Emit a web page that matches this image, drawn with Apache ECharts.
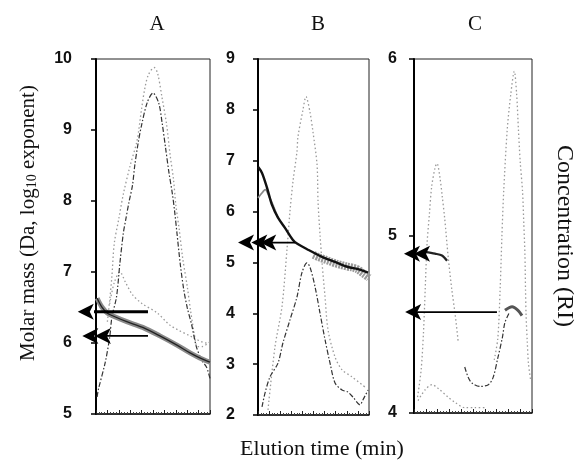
<!DOCTYPE html>
<html>
<head>
<meta charset="utf-8">
<script src="https://cdn.jsdelivr.net/npm/echarts@6/dist/echarts.min.js"></script>
<style>html,body{margin:0;padding:0;background:#fff}#c{width:575px;height:471px}</style>
</head>
<body>
<div id="c"></div>
<script>
// ---------- Panel titles & axis names ----------
const panelTitles = ['A', 'B', 'C'];
const yAxisName = 'Molar mass (Da, log';
const rightAxisName = 'Concentration (RI)';
const xAxisName = 'Elution time (min)';

// ---------- Y ranges (log10 exponent) ----------
const yRangeA = [5, 10];
const yRangeB = [2, 9];
const yRangeC = [4, 6];
const xRange = [0, 10];

// ---------- Panel A ----------
const aConcDark = [[0.1,5.24],[0.2,5.34],[0.8,5.72],[1.2,6.08],[1.4,6.37],[1.8,6.65],[2.1,7.13],[2.4,7.55],[2.6,7.73],[2.9,7.99],[3.2,8.22],[3.4,8.5],[3.7,8.82],[4.0,9.07],[4.5,9.39],[5.0,9.52],[5.5,9.38],[5.8,9.1],[6.1,8.75],[6.4,8.4],[6.7,8.1],[6.9,7.85],[7.1,7.55],[7.4,7.1],[7.7,6.75],[8.0,6.5],[8.4,6.25],[8.8,5.95],[9.3,5.75],[9.7,5.66],[10,5.5]];
const aConcLight = [[1.0,6.3],[1.2,6.6],[1.4,6.95],[1.6,7.4],[2.0,7.75],[2.4,8.1],[3.0,8.5],[3.6,8.85],[4.0,9.3],[4.3,9.6],[4.6,9.78],[5.1,9.88],[5.4,9.8],[5.8,9.45],[6.2,9.07],[6.5,8.65],[6.8,8.3],[7.0,7.95],[7.3,7.6],[7.6,7.2],[8.0,6.8],[8.3,6.45],[8.6,6.15],[8.9,5.95],[9.3,5.95],[10,6.02]];
const aConcBump = [[1.2,6.55],[1.6,6.85],[2.1,7.0],[2.6,6.85],[3.2,6.68],[4.0,6.56],[5.4,6.42],[6.5,6.25],[8.5,6.08],[9.7,6.0],[10,6.0]];
const aMolar = [[0.1,6.63],[0.5,6.51],[1.0,6.42],[1.5,6.38],[2.7,6.3],[4.1,6.22],[5.6,6.1],[7.1,5.97],[8.25,5.86],[9.1,5.79],[10,5.73]];
const aArrowUpper = {y: 6.44, from: 4.56, heads: [-1.6]};
const aArrowLower = {y: 6.1, from: 4.56, heads: [-0.1, -1.2]};

// ---------- Panel B ----------
const bMolar = [[0,6.88],[0.36,6.76],[0.81,6.47],[1.26,6.13],[1.8,5.88],[2.43,5.68],[3.15,5.44],[3.51,5.37],[4.5,5.25],[5.77,5.11],[6.94,5.01],[8.11,4.91],[9.0,4.87],[9.91,4.8]];
const bMolarGray = [[0,6.27],[0.45,6.39],[0.65,6.43],[1.0,6.3],[1.4,6.1],[1.8,5.88]];
const bMolarNoise = [[5.0,5.15],[5.5,5.1],[6.0,5.06],[6.5,5.02],[7.0,4.98],[7.5,4.95],[8.0,4.92],[8.5,4.9],[9.0,4.86],[9.5,4.78],[10,4.7]];
const bConcDark = [[0.36,2.16],[0.63,2.43],[1.08,2.75],[1.8,3.02],[2.25,3.42],[2.88,3.87],[3.51,4.32],[3.96,4.8],[4.41,4.99],[4.68,4.91],[5.14,4.52],[5.59,4.0],[6.04,3.48],[6.49,3.02],[6.94,2.63],[7.57,2.49],[8.11,2.45],[8.56,2.35],[9.19,2.2],[9.46,2.3],[9.91,2.49]];
const bConcLight = [[0.9,2.1],[1.53,3.34],[2.16,4.13],[2.61,5.25],[2.88,6.0],[3.15,6.59],[3.51,7.18],[3.6,7.47],[4.05,8.0],[4.32,8.26],[4.68,7.96],[4.95,7.57],[5.32,6.92],[5.41,6.19],[5.59,5.54],[5.77,4.99],[6.04,4.32],[6.31,3.67],[6.94,3.14],[7.57,2.89],[8.47,2.75],[9.64,2.55]];
const bArrow = {y: 5.39, from: 3.33, heads: [0.2, -0.6, -1.8]};

// ---------- Panel C ----------
const cConcLeft = [[0.3,4.09],[0.6,4.24],[0.8,4.45],[0.95,4.7],[1.1,4.95],[1.3,5.12],[1.5,5.28],[1.8,5.39],[1.95,5.41],[2.2,5.33],[2.4,5.22],[2.6,5.1],[2.9,4.88],[3.2,4.7],[3.5,4.55],[3.75,4.4]];
const cConcRight = [[6.8,4.3],[7.1,4.42],[7.3,4.7],[7.45,5.0],[7.6,5.25],[7.9,5.6],[8.2,5.8],[8.5,5.93],[8.7,5.8],[8.85,5.6],[9.0,5.42],[9.2,5.25],[9.3,5.08],[9.4,4.9],[9.45,4.7],[9.5,4.55],[9.6,4.4],[9.7,4.28],[9.9,4.18]];
const cConcU = [[4.3,4.26],[4.6,4.2],[4.9,4.17],[5.6,4.15],[6.3,4.16],[6.7,4.2],[7.1,4.31],[7.5,4.43],[7.7,4.51],[8.1,4.57]];
const cConcBump = [[0.34,4.07],[0.93,4.13],[1.53,4.16],[2.03,4.14],[2.88,4.09],[3.47,4.06],[4.32,4.03],[5.17,4.03],[6.02,4.03]];
const cMolar1 = [[0.93,4.91],[1.78,4.9],[2.37,4.89],[2.8,4.86]];
const cMolar2 = [[7.71,4.58],[8.31,4.6],[8.81,4.58],[9.15,4.55]];
const cArrowUpper = {y: 4.9, from: 0.93, heads: [0.0, -0.85]};
const cArrowLower = {y: 4.57, from: 7.03, heads: [-0.75]};

// ---------- styles ----------
const DARK_DASH = {color: '#333', width: 1.2, type: [5, 2, 1.5, 2]};
const LIGHT_DOT = {color: '#9a9a9a', width: 1.3, type: [1.5, 2.5]};
const SERIF = '"Liberation Serif","Times New Roman",serif';
const SANS = '"Liberation Sans",Arial,sans-serif';

function line(idx, data, lineStyle, z) {
  return {type: 'line', xAxisIndex: idx, yAxisIndex: idx, data: data, showSymbol: false,
    symbol: 'none', lineStyle: lineStyle, z: z || 2, silent: true, smooth: 0.3, clip: true};
}
function arrow(idx, a, width) {
  const d = [{value: [a.from, a.y], symbol: 'none'}];
  a.heads.forEach(h => d.push({value: [h, a.y], symbol: 'arrow', symbolRotate: 90, symbolSize: [12, 16]}));
  return {type: 'line', xAxisIndex: idx, yAxisIndex: idx, data: d, showSymbol: true, showAllSymbol: true,
    symbol: 'none', itemStyle: {color: '#000'}, lineStyle: {color: '#000', width: width}, clip: false, z: 10, silent: true};
}

const grids = [
  {left: 96, top: 59, width: 114, height: 355},
  {left: 258, top: 59, width: 111, height: 356},
  {left: 414, top: 59, width: 118, height: 354}
].map(g => Object.assign(g, {show: true, borderColor: '#222', borderWidth: 1, backgroundColor: 'transparent', outerBoundsMode: 'none'}));

const yRanges = [yRangeA, yRangeB, yRangeC];
const labelMargins = [24, 23, 17];

const xAxes = [0, 1, 2].map(i => ({
  type: 'value', gridIndex: i, min: xRange[0], max: xRange[1], interval: 1,
  axisLine: {show: true, lineStyle: {color: '#111', width: 1.5}},
  axisTick: {show: true, inside: true, length: 4, lineStyle: {color: '#222'}},
  minorTick: {show: true, splitNumber: 4, length: 2, lineStyle: {color: '#444'}},
  axisLabel: {show: false}, splitLine: {show: false}
}));
const yAxes = [0, 1, 2].map(i => ({
  type: 'value', gridIndex: i, min: yRanges[i][0], max: yRanges[i][1], interval: 1,
  axisLine: {show: true, lineStyle: {color: '#000', width: 2}},
  axisTick: {show: true, inside: false, length: 5, lineStyle: {color: '#000', width: 1.5}},
  axisLabel: {show: true, margin: labelMargins[i], fontFamily: SANS, fontSize: 16, fontWeight: 'bold', color: '#111'},
  splitLine: {show: false}
}));

const series = [
  // A
  line(0, aConcBump, LIGHT_DOT),
  line(0, aConcLight, LIGHT_DOT),
  line(0, aConcDark, DARK_DASH),
  line(0, aMolar, {color: '#8a8a8a', width: 5}, 3),
  line(0, aMolar, {color: '#222', width: 1.3}, 4),
  arrow(0, aArrowUpper, 2.8),
  arrow(0, aArrowLower, 1.8),
  // B
  line(1, bConcLight, LIGHT_DOT),
  line(1, bConcDark, DARK_DASH),
  line(1, bMolarGray, {color: '#888', width: 1.8}, 3),
  line(1, bMolarNoise, {color: '#9a9a9a', width: 8, type: [2, 1]}, 3),
  line(1, bMolar, {color: '#111', width: 2.4}, 4),
  arrow(1, bArrow, 1.8),
  // C
  line(2, cConcLeft, LIGHT_DOT),
  line(2, cConcRight, LIGHT_DOT),
  line(2, cConcBump, LIGHT_DOT),
  line(2, cConcU, DARK_DASH),
  line(2, cMolar1, {color: '#222', width: 2.2}, 4),
  line(2, cMolar2, {color: '#555', width: 3}, 4),
  arrow(2, cArrowUpper, 1.8),
  arrow(2, cArrowLower, 1.8)
];

const titleX = [157, 318, 475];
const graphic = panelTitles.map((t, i) => ({
  type: 'text', x: titleX[i], y: 24,
  style: {text: t, font: '21px ' + SERIF, fill: '#111', align: 'center', verticalAlign: 'middle'}
})).concat([
  {type: 'text', x: 28, y: 223, rotation: Math.PI / 2,
   style: {text: '{a|' + yAxisName + '}{s|10}{a| exponent)}', align: 'center', verticalAlign: 'middle', fill: '#111',
     rich: {a: {font: '21px ' + SERIF, fill: '#111'}, s: {font: '14px ' + SERIF, fill: '#111', padding: [9, 0, 0, 0]}}}},
  {type: 'text', x: 564, y: 236, rotation: -Math.PI / 2,
   style: {text: rightAxisName, font: '24px ' + SERIF, fill: '#111', align: 'center', verticalAlign: 'middle'}},
  {type: 'text', x: 322, y: 449,
   style: {text: xAxisName, font: '22px ' + SERIF, fill: '#111', align: 'center', verticalAlign: 'middle'}}
]);

const chart = echarts.init(document.getElementById('c'), null, {renderer: 'canvas'});
chart.setOption({
  animation: false,
  backgroundColor: '#fff',
  grid: grids,
  xAxis: xAxes,
  yAxis: yAxes,
  series: series,
  graphic: graphic
});
</script>
</body>
</html>
